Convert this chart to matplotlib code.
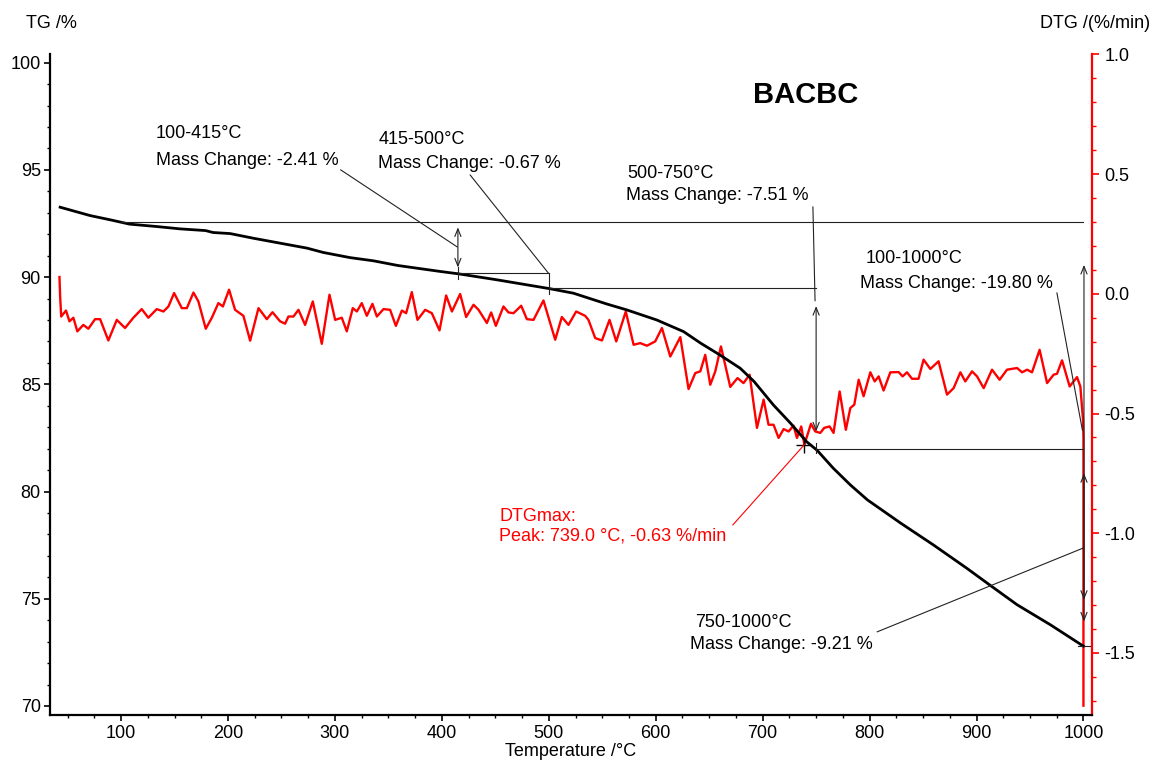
import matplotlib
matplotlib.use("Agg")
import matplotlib.pyplot as plt
from matplotlib.ticker import MultipleLocator

plt.rcParams['font.family'] = ['Liberation Sans', 'DejaVu Sans']

# ---------------- data ----------------
tg_temp = [43, 71, 90, 108, 133, 155, 179, 186, 202, 224, 249, 274, 289, 314, 336, 359,
           399, 416, 452, 501, 523, 554, 573, 601, 626, 642, 660, 679, 692, 710, 726,
           741, 751, 766, 782, 798, 829, 860, 891, 913, 938, 969, 1000]
tg_mass = [93.26, 92.87, 92.67, 92.47, 92.36, 92.25, 92.17, 92.08, 92.03, 91.81, 91.58,
           91.35, 91.15, 90.91, 90.76, 90.54, 90.26, 90.15, 89.87, 89.46, 89.25, 88.75,
           88.47, 88.00, 87.46, 86.92, 86.37, 85.75, 85.13, 84.04, 83.19, 82.33, 81.92,
           81.09, 80.31, 79.61, 78.53, 77.50, 76.42, 75.62, 74.72, 73.79, 72.79]

dtg_temp = [42.4, 43, 44, 48.5, 51.7, 55.4, 59.1, 64.7, 69.4, 75.7, 80.4, 88.1, 96, 103.7,
            111.5, 119.3, 125.5, 133.4, 139.6, 144.3, 149.6, 156.8, 161.5, 167.7, 172.3,
            179.2, 184.9, 191, 195.2, 201, 206.6, 214.4, 220.7, 228.5, 236.3, 241.6,
            248.7, 253.4, 256.5, 261.2, 265.9, 272.1, 279.3, 287.7, 294.9, 300.2, 306.4,
            311.1, 316.7, 320.5, 325.1, 329.8, 335.1, 339.2, 345.4, 351.6, 357, 362.6,
            366.6, 371.9, 377.2, 384.4, 390.6, 397.8, 404, 409.4, 417.1, 422.7, 429.6,
            434.3, 442.1, 446.1, 450.5, 457.6, 462.3, 467, 474.2, 479.5, 485.7, 495,
            506, 512.2, 518.4, 525.6, 534, 537.1, 543.4, 549.7, 556.8, 563.1, 572,
            579.3, 585.5, 591.8, 599.5, 605.8, 613.6, 623, 630.7, 637, 641.7, 646.3,
            651, 655.7, 661, 669.7, 676.5, 682.1, 687.8, 694.7, 700.9, 705.5, 710.2,
            714.9, 719.6, 724.2, 728.9, 732.1, 736.1, 739.0, 745.2, 749.2, 753.9,
            757.6, 762.6, 766.3, 772, 777.8, 782, 785.7, 789.8, 794.4, 800.7, 804.8,
            808.5, 813.1, 819.4, 827.2, 830.9, 835, 839.7, 845.8, 850.5, 856.8, 864.5,
            872.4, 878.6, 884.9, 889.5, 895.8, 900.5, 906.7, 914.5, 921.6, 928.5,
            937.9, 942.6, 947.3, 951.9, 959, 966, 972.1, 975.3, 980, 987.1, 994,
            997.1, 999.6, 1000, 1000]
dtg_rate = [0.07, -0.01, -0.095, -0.07, -0.115, -0.10, -0.157, -0.13, -0.146, -0.106,
            -0.106, -0.195, -0.109, -0.143, -0.10, -0.064, -0.10, -0.064, -0.074, -0.053,
            0.003, -0.06, -0.06, 0.005, -0.032, -0.146, -0.10, -0.039, -0.053, 0.017,
            -0.067, -0.092, -0.196, -0.06, -0.106, -0.077, -0.115, -0.125, -0.095,
            -0.095, -0.067, -0.13, -0.032, -0.209, -0.004, -0.109, -0.10, -0.157, -0.06,
            -0.074, -0.039, -0.092, -0.042, -0.095, -0.064, -0.067, -0.134, -0.07,
            -0.081, 0.007, -0.109, -0.067, -0.081, -0.153, -0.007, -0.074, -0.001,
            -0.097, -0.046, -0.067, -0.122, -0.078, -0.134, -0.053, -0.078, -0.081,
            -0.05, -0.106, -0.109, -0.028, -0.192, -0.097, -0.13, -0.074, -0.092,
            -0.109, -0.185, -0.195, -0.109, -0.199, -0.074, -0.213, -0.206, -0.217,
            -0.199, -0.143, -0.262, -0.181, -0.398, -0.331, -0.324, -0.255, -0.38,
            -0.324, -0.22, -0.389, -0.352, -0.373, -0.338, -0.56, -0.442, -0.547,
            -0.547, -0.602, -0.565, -0.575, -0.551, -0.602, -0.554, -0.63, -0.543,
            -0.575, -0.581, -0.56, -0.554, -0.581, -0.408, -0.568, -0.477, -0.463,
            -0.359, -0.428, -0.328, -0.366, -0.345, -0.404, -0.328, -0.327, -0.345,
            -0.328, -0.355, -0.355, -0.275, -0.314, -0.282, -0.421, -0.394, -0.328,
            -0.366, -0.324, -0.345, -0.394, -0.317, -0.359, -0.317, -0.31, -0.328,
            -0.317, -0.328, -0.234, -0.373, -0.338, -0.334, -0.278, -0.387, -0.348,
            -0.387, -0.526, -0.60, -1.72]

# mass-change steps
step_t0 = [100, 415, 500, 750, 100]
step_t1 = [415, 500, 750, 1000, 1000]
step_labels = ["100-415°C", "415-500°C", "500-750°C", "750-1000°C", "100-1000°C"]
step_changes = ["-2.41", "-0.67", "-7.51", "-9.21", "-19.80"]
tg_levels = [92.59, 90.18, 89.51, 82.00, 72.79]   # TG at 100, 415, 500, 750, 1000 °C

peak_temp = 739.0
peak_rate = -0.63

x_ticks = [100, 200, 300, 400, 500, 600, 700, 800, 900, 1000]

# ---------------- figure ----------------
W, H = 1157, 765
fig = plt.figure(figsize=(W / 100, H / 100), dpi=100)
ax = fig.add_axes([50.5 / W, 1 - 715 / H, (1092 - 50.5) / W, (715 - 54.3) / H])
ax2 = ax.twinx()
ax.set_zorder(ax2.get_zorder() + 1)
ax.patch.set_visible(False)

ax.set_xlim(34, 1008)
ax.set_ylim(69.58, 100.39)
ax2.set_ylim(-1.759, 1.0)

# DTG curve
ax2.plot(dtg_temp, dtg_rate, color='#ff0000', lw=1.7, solid_joinstyle='round')
# TG curve
ax.plot(tg_temp, tg_mass, color='black', lw=2.0, solid_joinstyle='round')

# spines / ticks
for a in (ax, ax2):
    a.spines['top'].set_visible(False)
ax.spines['right'].set_visible(False)
ax2.spines['left'].set_visible(False)
ax2.spines['bottom'].set_visible(False)
ax.spines['left'].set_linewidth(1.6)
ax.spines['bottom'].set_linewidth(1.6)
ax2.spines['right'].set_color('#ff0000')
ax2.spines['right'].set_linewidth(1.6)

ax.set_xticks(x_ticks)
ax.xaxis.set_minor_locator(MultipleLocator(25))
ax.yaxis.set_major_locator(MultipleLocator(5))
ax.yaxis.set_minor_locator(MultipleLocator(1))
ax2.yaxis.set_minor_locator(MultipleLocator(0.1))
ax2.set_yticks([-1.5, -1.0, -0.5, 0.0, 0.5, 1.0])
ax2.set_yticklabels(['-1.5', '-1.0', '-0.5', '0.0', '0.5', '1.0'])

ax.tick_params(axis='both', which='major', direction='out', length=4, width=1.2,
               labelsize=13, pad=3)
ax.tick_params(axis='both', which='minor', direction='out', length=2.2, width=1.0)
ax2.tick_params(axis='y', which='major', direction='out', length=5, width=1.2,
                color='#ff0000', labelcolor='black', labelsize=13, pad=4)
ax2.tick_params(axis='y', which='minor', direction='out', length=2.8, width=1.0,
                color='#ff0000')

# axis titles
fig.text(26 / W, 1 - 23 / H, "TG /%", fontsize=13, ha='left', va='center')
fig.text(1150 / W, 1 - 23 / H, "DTG /(%/min)", fontsize=13, ha='right', va='center')
fig.text(571 / W, 1 - 751 / H, "Temperature /°C", fontsize=13, ha='center', va='center')
ax.text(753 / 1.069 - 14.1 / 1.069, 100 - (95 - 62.7) / 21.45, "BACBC", fontsize=21,
        fontweight='bold', ha='left', va='center')

# ---------------- annotations ----------------
lc = '#222222'
lw = 0.8
arrow = dict(arrowstyle='<->,head_length=0.55,head_width=0.22', lw=lw, color=lc,
             shrinkA=0, shrinkB=0)

def hline(y, x0, x1):
    ax.plot([x0, x1], [y, y], color=lc, lw=lw)

def seg(x0, y0, x1, y1, c=lc):
    ax.plot([x0, x1], [y0, y1], color=c, lw=lw)

# horizontal reference levels
hline(tg_levels[0], step_t0[0], step_t1[4])
hline(tg_levels[1], step_t1[0], step_t1[1])
hline(tg_levels[2], step_t1[1], step_t1[2])
hline(tg_levels[3], step_t1[2], step_t1[3])
seg(995, tg_levels[4], 1006, tg_levels[4])

# small vertical ticks
seg(500, tg_levels[1], 500, 89.2)
seg(415, 90.45, 415, 89.9)
seg(750, 82.27, 750, 81.8)

# double arrows
ax.annotate('', xy=(415, 92.32), xytext=(415, 90.45), arrowprops=arrow)
ax.annotate('', xy=(750, 88.65), xytext=(750, 82.8), arrowprops=arrow)
ax.annotate('', xy=(1000.5, 90.57), xytext=(1000.5, 73.94), arrowprops=arrow)
ax.annotate('', xy=(1000.5, 80.86), xytext=(1000.5, 74.95), arrowprops=arrow)

# leader lines
seg(305.4, 95.0, 414.3, 91.41)
seg(426.5, 94.76, 499.4, 90.2)
seg(747.0, 93.27, 749.0, 88.9)
seg(975.2, 89.26, 999.0, 82.87)
seg(807.2, 73.46, 1000, 77.37)

# texts
fs = 13
ax.text(132.7, 96.72, step_labels[0], fontsize=fs, va='center')
ax.text(132.7, 95.42, f"Mass Change: {step_changes[0]} %", fontsize=fs, va='center')
ax.text(340.4, 96.44, step_labels[1], fontsize=fs, va='center')
ax.text(340.4, 95.32, f"Mass Change: {step_changes[1]} %", fontsize=fs, va='center')
ax.text(573.3, 94.81, step_labels[2], fontsize=fs, va='center')
ax.text(571.8, 93.79, f"Mass Change: {step_changes[2]} %", fontsize=fs, va='center')
ax.text(796.0, 90.85, step_labels[4], fontsize=fs, va='center')
ax.text(791.3, 89.68, f"Mass Change: {step_changes[4]} %", fontsize=fs, va='center')
ax.text(637.0, 73.88, step_labels[3], fontsize=fs, va='center')
ax.text(632.3, 72.85, f"Mass Change: {step_changes[3]} %", fontsize=fs, va='center')

# DTG max
ax2.plot([peak_temp], [peak_rate], marker='+', ms=12, mew=1.0, color='black')
ax2.plot([672.2, peak_temp], [-0.965, peak_rate], color='#ff0000', lw=0.8)
ax.text(454, 78.82, "DTGmax:", fontsize=fs, color='#ff0000', va='center')
ax.text(453.6, 77.93, f"Peak: {peak_temp:.1f} °C, {peak_rate:.2f} %/min", fontsize=fs,
        color='#ff0000', va='center')

fig.savefig("out.png", dpi=100)
